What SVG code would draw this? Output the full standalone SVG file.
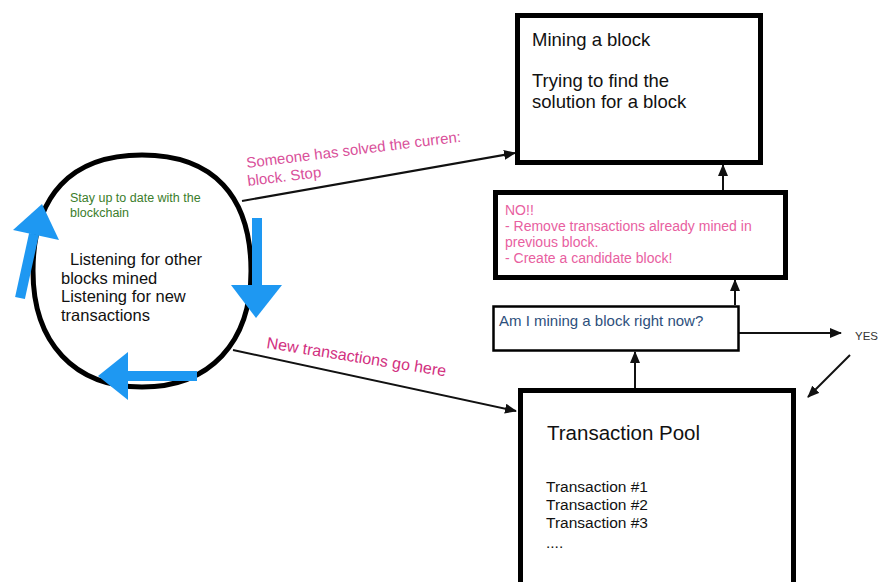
<svg xmlns="http://www.w3.org/2000/svg" width="879" height="582" viewBox="0 0 879 582">
  <style>
    .t { font-family: "Liberation Sans", Arial, sans-serif; }
    .box { fill: #fff; stroke: #000; }
    .conn { fill: none; stroke: #111; stroke-width: 2; }
    .blue { fill: #1e98f2; }
    .blueline { stroke: #1e98f2; stroke-width: 10; fill: none; }
  </style>
  <defs>
    <marker id="ah" markerUnits="userSpaceOnUse" markerWidth="12" markerHeight="10" refX="11" refY="5" orient="auto">
      <path d="M0,0 L12,5 L0,10 Z" fill="#111"/>
    </marker>
  </defs>
  <rect width="879" height="582" fill="#fff"/>

  <!-- connectors -->
  <g id="connectors">
    <line class="conn" x1="242" y1="201" x2="515" y2="153" marker-end="url(#ah)"/>
    <line class="conn" x1="233" y1="350" x2="516" y2="411" marker-end="url(#ah)"/>
    <line class="conn" x1="723" y1="190" x2="723" y2="165" marker-end="url(#ah)"/>
    <line class="conn" x1="735" y1="305" x2="735" y2="280" marker-end="url(#ah)"/>
    <line class="conn" x1="635" y1="388" x2="635" y2="352" marker-end="url(#ah)"/>
    <line class="conn" x1="739" y1="333" x2="841" y2="333" marker-end="url(#ah)"/>
    <line class="conn" x1="850" y1="355" x2="808" y2="397" marker-end="url(#ah)"/>
    <text class="t" x="0" y="0" font-size="15" fill="#d9509a" transform="translate(247,168) rotate(-7)">Someone has solved the curren:</text>
    <text class="t" x="0" y="0" font-size="15" fill="#d9509a" transform="translate(248,186) rotate(-7)">block. Stop</text>
    <text class="t" x="0" y="0" font-size="16" fill="#d2307f" transform="translate(266,348) rotate(9)">New transactions go here</text>
    <text class="t" x="855" y="340" font-size="11.5" fill="#333">YES</text>
  </g>

  <!-- listening loop -->
  <g id="listening">
    <path d="M142,155 C212.9,155 251,195.6 251,271 C251,342.9 209.6,387 142,387 C74.4,387 33,342.9 33,271 C33,195.6 71.1,155 142,155 Z" fill="#fff" stroke="#000" stroke-width="5"/>
    <text class="t" x="70" y="202" font-size="12.5" fill="#3b7d2b">Stay up to date with the</text>
    <text class="t" x="70" y="217" font-size="12.5" fill="#3b7d2b">blockchain</text>
    <text class="t" font-size="16.5" fill="#111">
      <tspan x="70" y="265">Listening for other</tspan>
      <tspan x="61" y="284">blocks mined</tspan>
      <tspan x="61" y="302">Listening for new</tspan>
      <tspan x="61" y="321">transactions</tspan>
    </text>
    <!-- cycle arrows -->
    <line class="blueline" x1="20" y1="298" x2="34" y2="234"/>
    <polygon class="blue" points="42,204 59,240 13,230"/>
    <line class="blueline" x1="257" y1="218" x2="257" y2="288"/>
    <polygon class="blue" points="231,285 282,285 256,318"/>
    <line class="blueline" x1="197" y1="376" x2="126" y2="376"/>
    <polygon class="blue" points="128,352 128,400 98,376"/>
  </g>

  <!-- mining box -->
  <g id="mining">
    <rect class="box" x="517.5" y="15.5" width="243" height="147" stroke-width="5"/>
    <text class="t" x="532" y="46" font-size="18.5" fill="#111">Mining a block</text>
    <text class="t" x="532" y="87" font-size="18.5" fill="#111">Trying to find the</text>
    <text class="t" x="532" y="108" font-size="18.5" fill="#111">solution for a block</text>
  </g>

  <!-- candidate block box -->
  <g id="candidate">
    <rect class="box" x="495.5" y="192.5" width="290" height="85" stroke-width="5"/>
    <text class="t" font-size="14" fill="#e8609f">
      <tspan x="505" y="215">NO!!</tspan>
      <tspan x="505" y="231">- Remove transactions already mined in</tspan>
      <tspan x="505" y="247">previous block.</tspan>
      <tspan x="505" y="263">- Create a candidate block!</tspan>
    </text>
  </g>

  <!-- question box -->
  <g id="question">
    <rect class="box" x="493.5" y="306.5" width="245" height="44" stroke-width="2.5"/>
    <text class="t" x="499" y="326" font-size="15" fill="#2d4f7c">Am I mining a block right now?</text>
  </g>

  <!-- transaction pool -->
  <g id="pool">
    <rect class="box" x="520.5" y="390.5" width="273" height="200" stroke-width="5"/>
    <text class="t" x="547" y="440" font-size="20.5" fill="#111">Transaction Pool</text>
    <text class="t" font-size="15.5" fill="#111">
      <tspan x="546" y="492">Transaction #1</tspan>
      <tspan x="546" y="510">Transaction #2</tspan>
      <tspan x="546" y="528">Transaction #3</tspan>
      <tspan x="546" y="548">....</tspan>
    </text>
  </g>
</svg>
